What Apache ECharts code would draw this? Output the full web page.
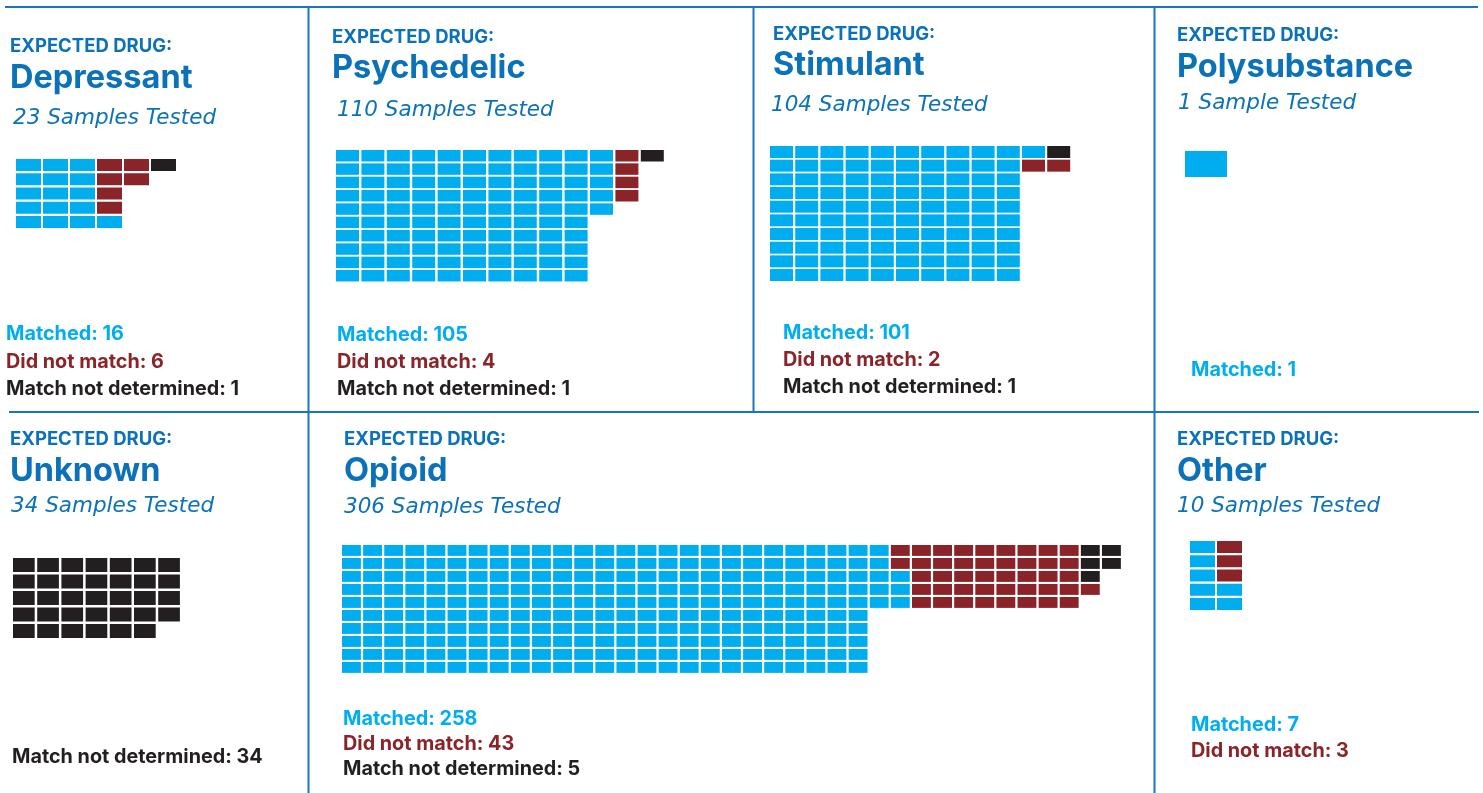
<!DOCTYPE html>
<html><head><meta charset="utf-8">
<script src="https://cdn.jsdelivr.net/npm/echarts@6/dist/echarts.min.js"></script>
<style>html,body{margin:0;padding:0;background:#fff}#c{width:1483px;height:793px}</style>
</head><body><div id="c"></div>
<script>
// ---------- DATA (cells per row, per outcome) ----------
const outcomes = ['Matched', 'Did not match', 'Match not determined'];
const drugNames = ['Depressant', 'Psychedelic', 'Stimulant', 'Polysubstance', 'Unknown', 'Opioid', 'Other'];

const depressantMatched      = [3, 3, 3, 3, 4];
const depressantNotMatched   = [2, 2, 1, 1, 0];
const depressantUndetermined = [1, 0, 0, 0, 0];

const psychedelicMatched      = [11, 11, 11, 11, 11, 10, 10, 10, 10, 10];
const psychedelicNotMatched   = [1, 1, 1, 1, 0, 0, 0, 0, 0, 0];
const psychedelicUndetermined = [1, 0, 0, 0, 0, 0, 0, 0, 0, 0];

const stimulantMatched      = [11, 10, 10, 10, 10, 10, 10, 10, 10, 10];
const stimulantNotMatched   = [0, 2, 0, 0, 0, 0, 0, 0, 0, 0];
const stimulantUndetermined = [1, 0, 0, 0, 0, 0, 0, 0, 0, 0];

const polysubstanceMatched      = [1];
const polysubstanceNotMatched   = [0];
const polysubstanceUndetermined = [0];

const unknownMatched      = [0, 0, 0, 0, 0];
const unknownNotMatched   = [0, 0, 0, 0, 0];
const unknownUndetermined = [7, 7, 7, 7, 6];

const opioidMatched      = [26, 26, 27, 27, 27, 25, 25, 25, 25, 25];
const opioidNotMatched   = [9, 9, 8, 9, 8, 0, 0, 0, 0, 0];
const opioidUndetermined = [2, 2, 1, 0, 0, 0, 0, 0, 0, 0];

const otherMatched      = [1, 1, 1, 2, 2];
const otherNotMatched   = [1, 1, 1, 0, 0];
const otherUndetermined = [0, 0, 0, 0, 0];

const drugRows = [
  [depressantMatched, depressantNotMatched, depressantUndetermined],
  [psychedelicMatched, psychedelicNotMatched, psychedelicUndetermined],
  [stimulantMatched, stimulantNotMatched, stimulantUndetermined],
  [polysubstanceMatched, polysubstanceNotMatched, polysubstanceUndetermined],
  [unknownMatched, unknownNotMatched, unknownUndetermined],
  [opioidMatched, opioidNotMatched, opioidUndetermined],
  [otherMatched, otherNotMatched, otherUndetermined]
];

// ---------- STYLE / LAYOUT ----------
const COLORS = ['#00aeef', '#8b2428', '#231f20'];
const HEAD = '#0b72b9';
const LINE = '#1a76bc';
const FONT = 'Inter, Roboto, "Noto Sans", sans-serif';
const IFONT = '"DejaVu Sans", "Noto Sans", sans-serif';

const layout = [
  {hx: 10,   h1: 46,  h2: 78,  h3: 118, sx: 13,   lx: 6,    ly: [334, 362, 389], g: {x: 16,   y: 159, px: 27,    py: 14.25, w: 25,   h: 12}},
  {hx: 332,  h1: 37,  h2: 68,  h3: 110, sx: 337,  lx: 337,  ly: [335, 362, 389], g: {x: 336,  y: 150, px: 25.4,  py: 13.33, w: 23,   h: 11.5}},
  {hx: 773,  h1: 34,  h2: 65,  h3: 105, sx: 771,  lx: 783,  ly: [333, 360, 387], g: {x: 770,  y: 146, px: 25.2,  py: 13.67, w: 23,   h: 12}},
  {hx: 1177, h1: 35,  h2: 67,  h3: 103, sx: 1178, lx: 1191, ly: [370],           g: {x: 1185, y: 151, px: 44,    py: 28,    w: 42,   h: 26}},
  {hx: 10,   h1: 439, h2: 471, h3: 506, sx: 11,   lx: 12,   ly: [757],           g: {x: 13,   y: 558, px: 24.2,  py: 16.5,  w: 21.7, h: 14}},
  {hx: 344,  h1: 439, h2: 471, h3: 507, sx: 344,  lx: 343,  ly: [719, 744, 769], g: {x: 342,  y: 545, px: 21.11, py: 13.0,  w: 18.9, h: 10.9}},
  {hx: 1177, h1: 439, h2: 471, h3: 506, sx: 1177, lx: 1191, ly: [725, 751],      g: {x: 1190, y: 541, px: 27,    py: 14.25, w: 25,   h: 12}}
];

const sum = a => a.reduce((s, v) => s + v, 0);

const grids = [], xAxes = [], yAxes = [], series = [], graphics = [];

function txt(x, y, text, font, fill) {
  graphics.push({type: 'text', x: x, y: y, silent: true,
    style: {text: text, font: font, fill: fill, textAlign: 'left', verticalAlign: 'middle', textVerticalAlign: 'middle'}});
}

drugNames.forEach((name, i) => {
  const rows = drugRows[i];
  const L = layout[i], g = L.g;
  const nRows = rows[0].length;
  let nCols = 0;
  const cells = [];
  for (let r = 0; r < nRows; r++) {
    let col = 0;
    rows.forEach((arr, k) => {
      for (let n = 0; n < arr[r]; n++) { cells.push([col, r, k]); col++; }
    });
    nCols = Math.max(nCols, col);
  }
  grids.push({left: g.x, top: g.y, width: nCols * g.px, height: nRows * g.py, containLabel: false});
  xAxes.push({type: 'value', gridIndex: i, min: 0, max: nCols, show: false});
  yAxes.push({type: 'value', gridIndex: i, min: 0, max: nRows, inverse: true, show: false});
  const rw = g.w / g.px, rh = g.h / g.py;
  series.push({
    type: 'custom', xAxisIndex: i, yAxisIndex: i, data: cells, encode: {x: 0, y: 1}, clip: false,
    renderItem: function (params, api) {
      const c = api.coord([api.value(0), api.value(1)]);
      const s = api.size([1, 1]);
      return {type: 'rect', shape: {x: c[0], y: c[1], width: s[0] * rw, height: s[1] * rh},
        style: {fill: COLORS[api.value(2)]}};
    }
  });

  const totals = rows.map(sum);
  const total = sum(totals);
  txt(L.hx, L.h1, 'EXPECTED DRUG:', 'bold 18.5px ' + FONT, HEAD);
  txt(L.hx, L.h2, name, 'bold 32.5px ' + FONT, HEAD);
  txt(L.sx, L.h3, total + (total === 1 ? ' Sample Tested' : ' Samples Tested'), 'italic 21.5px ' + IFONT, HEAD);
  let li = 0;
  totals.forEach((t, k) => {
    if (t > 0) { txt(L.lx, L.ly[li], outcomes[k] + ': ' + t, 'bold 19.8px ' + FONT, COLORS[k]); li++; }
  });
});

// panel divider lines
[[5, 7, 1478, 7], [9, 412, 1479, 412], [308.5, 7, 308.5, 793], [753.5, 7, 753.5, 412], [1154.5, 7, 1154.5, 793]]
  .forEach(l => graphics.push({type: 'line', silent: true, shape: {x1: l[0], y1: l[1], x2: l[2], y2: l[3]},
    style: {stroke: LINE, lineWidth: 2}}));

const chart = echarts.init(document.getElementById('c'), null, {renderer: 'canvas'});
chart.setOption({
  animation: false,
  backgroundColor: '#fff',
  grid: grids, xAxis: xAxes, yAxis: yAxes, series: series,
  graphic: graphics
});
</script>
</body></html>
